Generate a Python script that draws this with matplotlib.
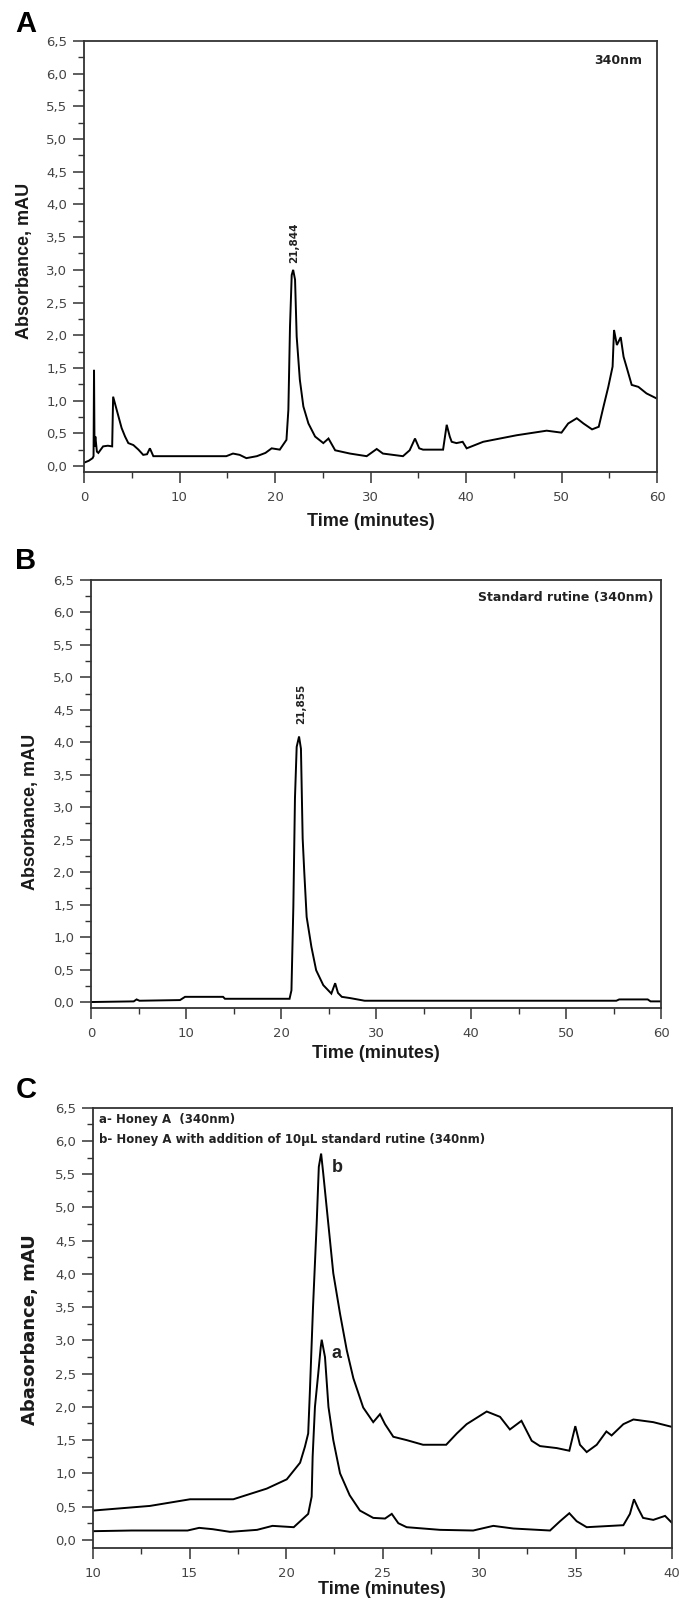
import matplotlib
matplotlib.use("Agg")
import matplotlib.pyplot as plt
from matplotlib.ticker import MultipleLocator, FuncFormatter

# ---------------- data ----------------
a_time = [0.0, 0.5, 0.9, 1.0, 1.05, 1.1, 1.19, 1.35, 1.5, 2.0, 2.5, 2.95, 3.05, 3.42, 3.94,
          4.3, 4.64, 5.17, 5.7, 6.2, 6.6, 6.9, 7.26, 8.0, 10.0, 12.0, 14.9, 15.6, 16.3, 17.0,
          18.1, 19.0, 19.65, 20.5, 21.2, 21.4, 21.57, 21.75, 21.9, 22.1, 22.27, 22.6, 22.97,
          23.5, 24.2, 25.06, 25.6, 26.3, 27.85, 29.6, 30.65, 31.3, 33.4, 34.1, 34.66, 35.1,
          35.5, 37.6, 37.98, 38.3, 38.5, 39.0, 39.65, 40.07, 41.8, 45.3, 48.45, 50.0, 50.7,
          51.6, 52.3, 53.2, 53.9, 54.4, 54.9, 55.35, 55.5, 55.8, 56.2, 56.5, 56.8, 57.35,
          58.05, 58.9, 60.0]
a_abs = [0.05, 0.08, 0.12, 0.15, 1.47, 0.3, 0.45, 0.22, 0.2, 0.3, 0.31, 0.3, 1.06, 0.86, 0.58,
         0.45, 0.35, 0.32, 0.25, 0.17, 0.18, 0.27, 0.15, 0.15, 0.15, 0.15, 0.15, 0.19, 0.17, 0.12,
         0.15, 0.2, 0.27, 0.25, 0.4, 0.86, 2.13, 2.92, 3.0, 2.85, 1.98, 1.32, 0.91,
         0.65, 0.45, 0.35, 0.42, 0.24, 0.19, 0.15, 0.26, 0.19, 0.15, 0.24, 0.42, 0.27,
         0.25, 0.25, 0.63, 0.45, 0.37, 0.35, 0.37, 0.27, 0.37, 0.47, 0.54, 0.51, 0.65,
         0.73, 0.65, 0.56, 0.6, 0.91, 1.21, 1.52, 2.08, 1.85, 1.97, 1.67, 1.52, 1.24,
         1.21, 1.11, 1.03]

b_time = [0.0, 4.5, 4.8, 5.1, 9.37, 9.9, 13.9, 14.1, 20.9, 21.1, 21.3, 21.47, 21.65, 21.9,
          22.1, 22.28, 22.45, 22.7, 23.2, 23.7, 24.45, 25.3, 25.7, 26.0, 26.4, 27.3, 28.8,
          55.3, 55.6, 58.6, 58.9, 60.0]
b_abs = [0.0, 0.01, 0.04, 0.02, 0.03, 0.08, 0.08, 0.05, 0.05, 0.18, 1.47, 3.14, 3.93, 4.09,
         3.9, 2.52, 2.0, 1.31, 0.85, 0.49, 0.26, 0.13, 0.29, 0.14, 0.08, 0.06, 0.02,
         0.02, 0.04, 0.04, 0.01, 0.01]

c_a_time = [10.0, 12.0, 14.9, 15.5, 16.2, 17.1, 18.5, 19.3, 20.4, 21.15, 21.33, 21.38, 21.5,
            21.67, 21.8, 21.85, 22.02, 22.2, 22.45, 22.8, 23.3, 23.83, 24.52, 25.13, 25.48,
            25.82, 26.25, 27.98, 29.7, 30.74, 31.78, 33.68, 34.2, 34.68, 35.06, 35.58, 37.48,
            37.82, 38.03, 38.25, 38.5, 39.03, 39.64, 39.98]
c_a_abs = [0.13, 0.14, 0.14, 0.18, 0.16, 0.12, 0.15, 0.21, 0.19, 0.39, 0.65, 1.25, 2.0,
           2.5, 2.9, 3.01, 2.75, 2.0, 1.5, 1.0, 0.67, 0.44, 0.33, 0.32, 0.39,
           0.25, 0.19, 0.15, 0.14, 0.21, 0.17, 0.14, 0.28, 0.4, 0.28, 0.19, 0.22,
           0.39, 0.61, 0.47, 0.33, 0.30, 0.36, 0.26]

c_b_time = [10.0, 12.95, 15.03, 17.27, 19.0, 20.04, 20.73, 20.98, 21.15, 21.24, 21.4, 21.59,
            21.7, 21.82, 21.93, 22.19, 22.45, 22.8, 23.15, 23.49, 24.0, 24.52, 24.87, 25.13,
            25.56, 26.25, 27.1, 28.3, 28.85, 29.36, 30.4, 31.09, 31.6, 32.2, 32.73, 33.16,
            34.03, 34.68, 34.99, 35.23, 35.58, 36.1, 36.6, 36.87, 37.48, 38.0, 39.03, 39.98]
c_b_abs = [0.44, 0.51, 0.61, 0.61, 0.77, 0.91, 1.16, 1.4, 1.6, 2.25, 3.5, 4.76,
           5.61, 5.81, 5.51, 4.76, 4.01, 3.4, 2.85, 2.43, 1.99, 1.77, 1.89, 1.74,
           1.55, 1.5, 1.43, 1.43, 1.6, 1.74, 1.93, 1.85, 1.66, 1.79, 1.49, 1.41,
           1.38, 1.34, 1.71, 1.43, 1.32, 1.43, 1.63, 1.57, 1.74, 1.81, 1.77, 1.70]

peak_a_label = "21,844"
peak_b_label = "21,855"

# ---------------- figure ----------------
W, H = 679, 1602
fig = plt.figure(figsize=(W / 100, H / 100), dpi=100)

def fx(px):
    return px / W

def fy(py):
    return 1 - py / H

def make_ax(l, t, r, b):
    return fig.add_axes([fx(l), fy(b), fx(r) - fx(l), fy(t) - fy(b)])

comma = FuncFormatter(lambda v, p: ("%.1f" % v).replace(".", ","))
int_fmt = FuncFormatter(lambda v, p: "%d" % round(v))
tick_col = "#444444"

def style(ax, xmin, xmax, xmaj, xmin_step, ymin):
    ax.set_xlim(xmin, xmax)
    ax.set_ylim(ymin, 6.5)
    ax.xaxis.set_major_locator(MultipleLocator(xmaj))
    ax.xaxis.set_minor_locator(MultipleLocator(xmin_step))
    ax.yaxis.set_major_locator(MultipleLocator(0.5))
    ax.yaxis.set_minor_locator(MultipleLocator(0.25))
    ax.yaxis.set_major_formatter(comma)
    ax.xaxis.set_major_formatter(int_fmt)
    ax.tick_params(which="major", direction="out", length=8, width=1.1, color="#333333",
                   labelsize=9.5, labelcolor=tick_col, pad=4)
    ax.tick_params(which="minor", direction="out", length=4, width=1.0, color="#333333")
    ax.tick_params(axis="x", which="major", pad=6)
    for lab in ax.get_xticklabels() + ax.get_yticklabels():
        lab.set_family("DejaVu Sans")
    for s in ax.spines.values():
        s.set_linewidth(1.3)
        s.set_color("#333333")

line_kw = dict(color="black", lw=1.4, solid_joinstyle="miter")
lab_kw = dict(fontsize=13, fontweight="bold", family="Liberation Sans", color="#1a1a1a")

# ---- Panel A ----
axA = make_ax(84, 41, 657, 472)
axA.plot(a_time, a_abs, **line_kw)
style(axA, 0, 60, 10, 5, -0.092)
fig.text(fx(26), fy(24), "A", fontsize=21, fontweight="bold", family="Liberation Sans",
         ha="center", va="center")
fig.text(fx(25), fy(261), "Absorbance, mAU", rotation=90, ha="center", va="center", **lab_kw)
fig.text(fx(371), fy(522), "Time (minutes)", ha="center", va="center", **lab_kw)
fig.text(fx(642), fy(61), "340nm", ha="right", va="center", fontsize=9, fontweight="bold",
         family="DejaVu Sans", color="#222222")
fig.text(fx(294), fy(243), peak_a_label, rotation=90, ha="center", va="center", fontsize=7.5,
         fontweight="bold", family="DejaVu Sans", color="#222222")

# ---- Panel B ----
axB = make_ax(91, 580, 661, 1008)
axB.plot(b_time, b_abs, **line_kw)
style(axB, 0, 60, 10, 5, -0.092)
fig.text(fx(26), fy(561), "B", fontsize=21, fontweight="bold", family="Liberation Sans",
         ha="center", va="center")
fig.text(fx(30), fy(812), "Absorbance, mAU", rotation=90, ha="center", va="center", **lab_kw)
fig.text(fx(376), fy(1053), "Time (minutes)", ha="center", va="center", **lab_kw)
fig.text(fx(654), fy(597), "Standard rutine (340nm)", ha="right", va="center", fontsize=9,
         fontweight="bold", family="DejaVu Sans", color="#222222")
fig.text(fx(301.5), fy(704), peak_b_label, rotation=90, ha="center", va="center", fontsize=7.5,
         fontweight="bold", family="DejaVu Sans", color="#222222")

# ---- Panel C ----
axC = make_ax(93, 1107.7, 672, 1547.8)
axC.plot(c_a_time, c_a_abs, **line_kw)
axC.plot(c_b_time, c_b_abs, **line_kw)
style(axC, 10, 40, 5, 2.5, -0.12)
fig.text(fx(26), fy(1090), "C", fontsize=21, fontweight="bold", family="Liberation Sans",
         ha="center", va="center")
fig.text(fx(30), fy(1330), "Abasorbance, mAU", rotation=90, ha="center", va="center",
         fontsize=13, fontweight="bold", family="DejaVu Sans", color="#1a1a1a")
fig.text(fx(382), fy(1589), "Time (minutes)", ha="center", va="center", **lab_kw)
fig.text(fx(99), fy(1119.5), "a- Honey A  (340nm)", ha="left", va="center", fontsize=8.5,
         fontweight="bold", family="DejaVu Sans", color="#222222")
fig.text(fx(99), fy(1139.5), "b- Honey A with addition of 10\u03bcL standard rutine (340nm)",
         ha="left", va="center", fontsize=8.5, fontweight="bold", family="DejaVu Sans",
         color="#222222")
axC.text(22.35, 5.6, "b", ha="left", va="center", fontsize=13, fontweight="bold",
         family="Liberation Sans", color="#222222")
axC.text(22.35, 2.81, "a", ha="left", va="center", fontsize=13, fontweight="bold",
         family="Liberation Sans", color="#222222")

fig.savefig("out.png", dpi=100)
